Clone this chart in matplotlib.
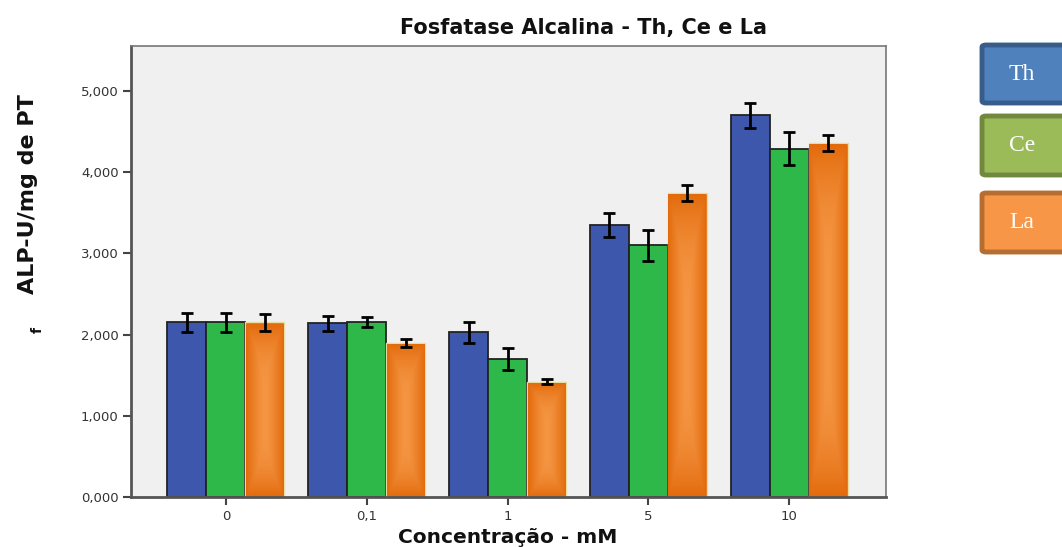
import numpy as np
import matplotlib
matplotlib.use("Agg")
import matplotlib.pyplot as plt
from matplotlib.patches import FancyBboxPatch
from matplotlib.ticker import FuncFormatter

# dados
conc = ["0", "0,1", "1", "5", "10"]
th = [2.15, 2.14, 2.03, 3.35, 4.70]
ce = [2.15, 2.16, 1.70, 3.10, 4.29]
la = [2.15, 1.90, 1.42, 3.74, 4.36]
th_err = [0.12, 0.09, 0.13, 0.15, 0.15]
ce_err = [0.12, 0.06, 0.13, 0.19, 0.20]
la_err = [0.11, 0.05, 0.03, 0.10, 0.10]
series = ["Th", "Ce", "La"]

fig = plt.figure(figsize=(10.62, 5.47), dpi=100)
ax = fig.add_axes([0.1234, 0.0914, 0.7109, 0.8245])
ax.set_facecolor("#f0f0f0")

x = np.arange(len(conc))
w = 0.277

b1 = ax.bar(x - w, th, w, color="#3d57ad", edgecolor="#222222", lw=1.3, zorder=2)
b2 = ax.bar(x, ce, w, color="#2eb84a", edgecolor="#222222", lw=1.3, zorder=2)
b3 = ax.bar(x + w, la, w, color="#e36c0a", edgecolor="#e8dca0", lw=1.0, zorder=2)

# gradiente laranja das barras La
cx = np.abs(np.linspace(-1, 1, 60))
cy = np.abs(np.linspace(-1, 1, 120))
t = np.clip(1 - np.maximum(cx[None, :] ** 1.3, cy[:, None] ** 3), 0, 1)
c0 = np.array([0.89, 0.42, 0.05])
c1 = np.array([0.96, 0.59, 0.27])
img = c0 + (c1 - c0) * t[..., None]
for r in b3:
    x0, y0 = r.get_x(), r.get_y()
    im = ax.imshow(img, extent=[x0 + 0.004, x0 + r.get_width() - 0.004, y0, y0 + r.get_height() - 0.02],
                   aspect="auto", zorder=2.5, interpolation="bilinear")
    im.set_clip_path(r)

ek = dict(fmt="none", ecolor="black", elinewidth=2, capsize=4.5, capthick=2, zorder=4)
ax.errorbar(x - w, th, yerr=th_err, **ek)
ax.errorbar(x, ce, yerr=ce_err, **ek)
ax.errorbar(x + w, la, yerr=la_err, **ek)

ax.set_xlim(-0.674, 4.688)
ax.set_ylim(0, 5.555)
ax.set_xticks(x)
ax.set_xticklabels(conc)
ax.set_yticks(np.arange(0, 6, 1))
ax.yaxis.set_major_formatter(FuncFormatter(lambda v, p: ("%.3f" % v).replace(".", ",")))
ax.tick_params(axis="both", direction="out", length=6, width=1.5, color="#444444",
               labelsize=9.5, labelcolor="#333333", pad=3)
for s in ["left", "bottom"]:
    ax.spines[s].set_linewidth(2)
    ax.spines[s].set_color("#555555")
for s in ["top", "right"]:
    ax.spines[s].set_linewidth(1.2)
    ax.spines[s].set_color("#777777")

fig.text(0.549, 0.949, "Fosfatase Alcalina - Th, Ce e La", ha="center", va="center",
         fontsize=15, fontweight="bold", color="#111111")
fig.text(0.478, 0.018, "Concentração - mM", ha="center", va="center",
         fontsize=14.5, fontweight="bold", color="#111111")
fig.text(0.026, 0.645, "ALP-U/mg de PT", ha="center", va="center", rotation=90,
         fontsize=16, fontweight="bold", color="#111111")
fig.text(0.036, 0.397, "f", ha="center", va="center", rotation=90,
         fontsize=10, fontweight="bold", color="#111111")

# legenda em caixas
leg = [("#4f81bd", "#385d8a"), ("#9bbb59", "#71893f"), ("#f79646", "#b66d31")]
ys = [(45, 103), (116, 175), (193, 252)]
for name, (fc, ec), (ya, yb) in zip(series, leg, ys):
    x0 = 982 / 1062
    y0 = 1 - yb / 547
    h = (yb - ya) / 547
    box = FancyBboxPatch((x0, y0), 0.1, h, boxstyle="round,pad=0,rounding_size=0.004",
                         transform=fig.transFigure, facecolor=fc, edgecolor=ec, lw=3.5)
    fig.patches.append(box)
    fig.text(1022 / 1062, y0 + h / 2, name, ha="center", va="center", fontsize=17,
             color="white", family="Liberation Serif")

fig.savefig("out.png", dpi=100)
